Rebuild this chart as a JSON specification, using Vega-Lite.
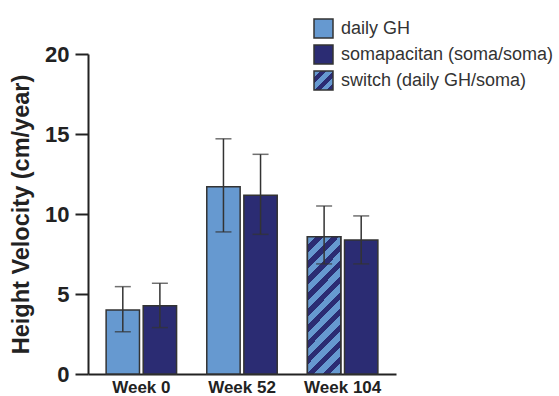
{
  "$schema": "https://vega.github.io/schema/vega-lite/v6.json",
  "width": 308,
  "height": 320,
  "autosize": {"type": "none"},
  "padding": {"left": 88, "top": 54, "right": 163, "bottom": 22},
  "background": "white",
  "config": {
    "view": {"stroke": null},
    "font": "Liberation Sans",
    "bar": {"stroke": "#333333", "strokeWidth": 1.5},
    "axis": {"grid": false, "domainColor": "#222222", "tickColor": "#222222", "labelColor": "#222222", "titleColor": "#222222", "labelFont": "Liberation Sans", "titleFont": "Liberation Sans"}
  },
  "data": {
    "values": [
      {"week": "Week 0", "pos": "a", "series": "daily GH", "value": 4.0, "lo": 2.64, "hi": 5.46},
      {"week": "Week 0", "pos": "b", "series": "somapacitan (soma/soma)", "value": 4.27, "lo": 2.9, "hi": 5.67},
      {"week": "Week 52", "pos": "a", "series": "daily GH", "value": 11.7, "lo": 8.88, "hi": 14.7},
      {"week": "Week 52", "pos": "b", "series": "somapacitan (soma/soma)", "value": 11.17, "lo": 8.73, "hi": 13.73},
      {"week": "Week 104", "pos": "a", "series": "switch (daily GH/soma)", "value": 8.58, "lo": 6.88, "hi": 10.5},
      {"week": "Week 104", "pos": "b", "series": "somapacitan (soma/soma)", "value": 8.38, "lo": 6.88, "hi": 9.88}
    ]
  },
  "encoding": {
    "x": {
      "field": "week", "type": "nominal", "sort": ["Week 0", "Week 52", "Week 104"],
      "scale": {"paddingInner": 0.3, "paddingOuter": 0.18},
      "axis": {"title": null, "labelAngle": 0, "ticks": false, "domainWidth": 2, "labelFontSize": 17, "labelFontWeight": "bold", "labelPadding": 5}
    },
    "xOffset": {"field": "pos", "type": "nominal", "scale": {"paddingInner": 0.1, "paddingOuter": 0}}
  },
  "layer": [
    {
      "mark": {"type": "bar", "stroke": "#333333", "strokeWidth": 1.5},
      "encoding": {
        "y": {
          "field": "value", "type": "quantitative",
          "scale": {"domain": [0, 20], "nice": false},
          "axis": {"title": "Height Velocity (cm/year)", "values": [0, 5, 10, 15, 20], "tickSize": 13, "tickWidth": 2, "domainWidth": 2, "labelFontSize": 22, "labelFontWeight": "bold", "labelPadding": 6, "titleFontSize": 23.5, "titleFontWeight": "bold", "titlePadding": 11}
        },
        "color": {
          "field": "series", "type": "nominal",
          "scale": {"domain": ["daily GH", "somapacitan (soma/soma)", "switch (daily GH/soma)"], "range": ["#6699d0", "#2b2c73", {"expr": "{gradient: 'linear', x1: 0, y1: 0, x2: 1, y2: 1, stops: [{offset: 0, color: '#6699d0'}, {offset: 0.18, color: '#6699d0'}, {offset: 0.18, color: '#2b2c73'}, {offset: 0.33, color: '#2b2c73'}, {offset: 0.33, color: '#6699d0'}, {offset: 0.51, color: '#6699d0'}, {offset: 0.51, color: '#2b2c73'}, {offset: 0.66, color: '#2b2c73'}, {offset: 0.66, color: '#6699d0'}, {offset: 0.84, color: '#6699d0'}, {offset: 0.84, color: '#2b2c73'}, {offset: 1, color: '#2b2c73'}]}"}]},
          "legend": {
            "title": null, "orient": "none", "legendX": 225, "legendY": -36, "padding": 0,
            "symbolType": "square", "symbolSize": 361, "symbolStrokeColor": "#333333", "symbolStrokeWidth": 1.5, "symbolOpacity": 1,
            "labelFontSize": 18, "labelColor": "#333333", "labelFont": "Liberation Sans", "labelOffset": 7, "rowPadding": 1, "labelLimit": 300
          }
        }
      }
    },
    {
      "transform": [{"filter": "datum.series === 'switch (daily GH/soma)'"}],
      "mark": {"type": "bar", "stroke": "#333333", "strokeWidth": 1.5, "fill": {"gradient": "linear", "x1": 0, "y1": 0, "x2": 0.2865, "y2": 1.174, "stops": [
        {"offset": 0, "color": "#6699d0"}, {"offset": 0.0515, "color": "#6699d0"}, {"offset": 0.0515, "color": "#2b2c73"}, {"offset": 0.0936, "color": "#2b2c73"},
        {"offset": 0.0936, "color": "#6699d0"}, {"offset": 0.1451, "color": "#6699d0"}, {"offset": 0.1451, "color": "#2b2c73"}, {"offset": 0.1872, "color": "#2b2c73"},
        {"offset": 0.1872, "color": "#6699d0"}, {"offset": 0.2387, "color": "#6699d0"}, {"offset": 0.2387, "color": "#2b2c73"}, {"offset": 0.2808, "color": "#2b2c73"},
        {"offset": 0.2808, "color": "#6699d0"}, {"offset": 0.3323, "color": "#6699d0"}, {"offset": 0.3323, "color": "#2b2c73"}, {"offset": 0.3744, "color": "#2b2c73"},
        {"offset": 0.3744, "color": "#6699d0"}, {"offset": 0.4259, "color": "#6699d0"}, {"offset": 0.4259, "color": "#2b2c73"}, {"offset": 0.468, "color": "#2b2c73"},
        {"offset": 0.468, "color": "#6699d0"}, {"offset": 0.5195, "color": "#6699d0"}, {"offset": 0.5195, "color": "#2b2c73"}, {"offset": 0.5616, "color": "#2b2c73"},
        {"offset": 0.5616, "color": "#6699d0"}, {"offset": 0.6131, "color": "#6699d0"}, {"offset": 0.6131, "color": "#2b2c73"}, {"offset": 0.6552, "color": "#2b2c73"},
        {"offset": 0.6552, "color": "#6699d0"}, {"offset": 0.7067, "color": "#6699d0"}, {"offset": 0.7067, "color": "#2b2c73"}, {"offset": 0.7488, "color": "#2b2c73"},
        {"offset": 0.7488, "color": "#6699d0"}, {"offset": 0.8003, "color": "#6699d0"}, {"offset": 0.8003, "color": "#2b2c73"}, {"offset": 0.8424, "color": "#2b2c73"},
        {"offset": 0.8424, "color": "#6699d0"}, {"offset": 0.8939, "color": "#6699d0"}, {"offset": 0.8939, "color": "#2b2c73"}, {"offset": 0.936, "color": "#2b2c73"},
        {"offset": 0.936, "color": "#6699d0"}, {"offset": 0.9875, "color": "#6699d0"}, {"offset": 0.9875, "color": "#2b2c73"}, {"offset": 1, "color": "#2b2c73"}
      ]}},
      "encoding": {
        "y": {"field": "value", "type": "quantitative"}
      }
    },
    {
      "mark": {"type": "rule", "color": "#333333", "strokeWidth": 1.5},
      "encoding": {
        "y": {"field": "lo", "type": "quantitative"},
        "y2": {"field": "hi"}
      }
    },
    {
      "mark": {"type": "tick", "color": "#333333", "thickness": 1.5, "size": 16, "orient": "horizontal"},
      "encoding": {"y": {"field": "lo", "type": "quantitative"}}
    },
    {
      "mark": {"type": "tick", "color": "#333333", "thickness": 1.5, "size": 16, "orient": "horizontal"},
      "encoding": {"y": {"field": "hi", "type": "quantitative"}}
    }
  ]
}
